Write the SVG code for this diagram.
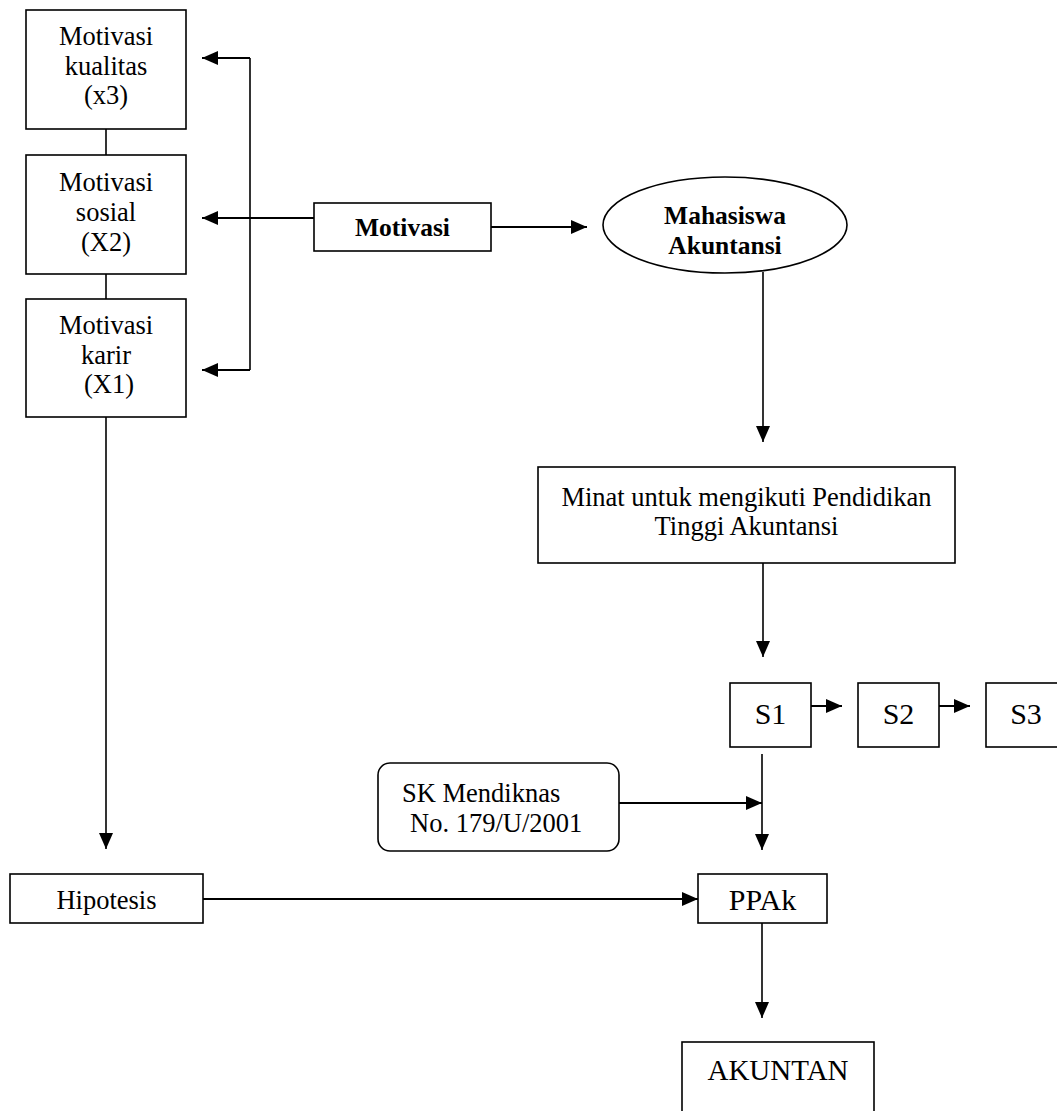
<svg xmlns="http://www.w3.org/2000/svg" width="1057" height="1111" viewBox="0 0 1057 1111">
<style>
.box{fill:#fff;stroke:#000;stroke-width:1.6}
.t{font-family:"Liberation Serif","Times New Roman",serif;font-size:26.5px;fill:#000;text-anchor:middle}
.b{font-weight:bold;font-size:25.5px}
.big{font-size:30px}
.ln{fill:none;stroke:#000;stroke-width:1.6}
.lh{fill:none;stroke:#000;stroke-width:2}
</style>
<defs>
<marker id="ah" viewBox="0 0 16 14" refX="16" refY="7" markerWidth="16" markerHeight="14" markerUnits="userSpaceOnUse" orient="auto">
<path d="M0,0 L16,7 L0,14 Z" fill="#000"/>
</marker>
</defs>
<rect width="1057" height="1111" fill="#fff"/>
<g id="connectors">
<line class="ln" x1="106" y1="129" x2="106" y2="155"/>
<line class="ln" x1="106" y1="274" x2="106" y2="299"/>
<line class="ln" x1="250" y1="58" x2="250" y2="370"/>
<line class="lh" x1="250" y1="58" x2="202" y2="58" marker-end="url(#ah)"/>
<line class="lh" x1="314" y1="218" x2="202" y2="218" marker-end="url(#ah)"/>
<line class="lh" x1="250" y1="370" x2="202" y2="370" marker-end="url(#ah)"/>
<line class="lh" x1="491" y1="227" x2="587" y2="227" marker-end="url(#ah)"/>
<line class="ln" x1="763" y1="272" x2="763" y2="442" marker-end="url(#ah)"/>
<line class="ln" x1="763" y1="563" x2="763" y2="657" marker-end="url(#ah)"/>
<line class="lh" x1="811" y1="706" x2="842" y2="706" marker-end="url(#ah)"/>
<line class="lh" x1="939" y1="706" x2="970" y2="706" marker-end="url(#ah)"/>
<line class="ln" x1="762" y1="754" x2="762" y2="850" marker-end="url(#ah)"/>
<line class="lh" x1="619" y1="803" x2="762" y2="803" marker-end="url(#ah)"/>
<line class="ln" x1="106" y1="417" x2="106" y2="849" marker-end="url(#ah)"/>
<line class="lh" x1="203" y1="899" x2="698" y2="899" marker-end="url(#ah)"/>
<line class="ln" x1="762" y1="923" x2="762" y2="1018" marker-end="url(#ah)"/>
</g>
<g id="kualitas">
<rect class="box" x="26" y="10" width="160" height="119"/>
<text class="t" x="106" y="45">Motivasi</text>
<text class="t" x="106" y="75">kualitas</text>
<text class="t" x="106" y="104">(x3)</text>
</g>
<g id="sosial">
<rect class="box" x="26" y="155" width="160" height="119"/>
<text class="t" x="106" y="191">Motivasi</text>
<text class="t" x="106" y="221">sosial</text>
<text class="t" x="106" y="251">(X2)</text>
</g>
<g id="karir">
<rect class="box" x="26" y="299" width="160" height="118"/>
<text class="t" x="106" y="334">Motivasi</text>
<text class="t" x="106" y="364">karir</text>
<text class="t" x="109" y="393">(X1)</text>
</g>
<g id="motivasi">
<rect class="box" x="314" y="203" width="177" height="48"/>
<text class="t b" x="402.5" y="236">Motivasi</text>
</g>
<g id="mahasiswa">
<ellipse class="box" cx="725" cy="225" rx="122" ry="48"/>
<text class="t b" x="725" y="224">Mahasiswa</text>
<text class="t b" x="725" y="254">Akuntansi</text>
</g>
<g id="minat">
<rect class="box" x="538" y="467" width="417" height="96"/>
<text class="t" x="746.5" y="506">Minat untuk mengikuti Pendidikan</text>
<text class="t" x="746.5" y="535">Tinggi Akuntansi</text>
</g>
<g id="s1">
<rect class="box" x="730" y="683" width="81" height="64"/>
<text class="t big" x="770.5" y="724">S1</text>
</g>
<g id="s2">
<rect class="box" x="858" y="683" width="81" height="64"/>
<text class="t big" x="898.5" y="724">S2</text>
</g>
<g id="s3">
<rect class="box" x="986" y="683" width="81" height="64"/>
<text class="t big" x="1026" y="724">S3</text>
</g>
<g id="sk">
<rect class="box" x="378" y="763" width="241" height="88" rx="12" ry="12"/>
<text class="t" x="402" y="802" style="text-anchor:start">SK Mendiknas</text>
<text class="t" x="410" y="832" style="text-anchor:start">No. 179/U/2001</text>
</g>
<g id="hipotesis">
<rect class="box" x="10" y="874" width="193" height="49"/>
<text class="t" x="106.5" y="909">Hipotesis</text>
</g>
<g id="ppak">
<rect class="box" x="698" y="874" width="129" height="49"/>
<text class="t big" x="762.5" y="910">PPAk</text>
</g>
<g id="akuntan">
<rect class="box" x="682" y="1042" width="192" height="90"/>
<text class="t" x="778" y="1080" style="font-size:29px">AKUNTAN</text>
</g>
</svg>
